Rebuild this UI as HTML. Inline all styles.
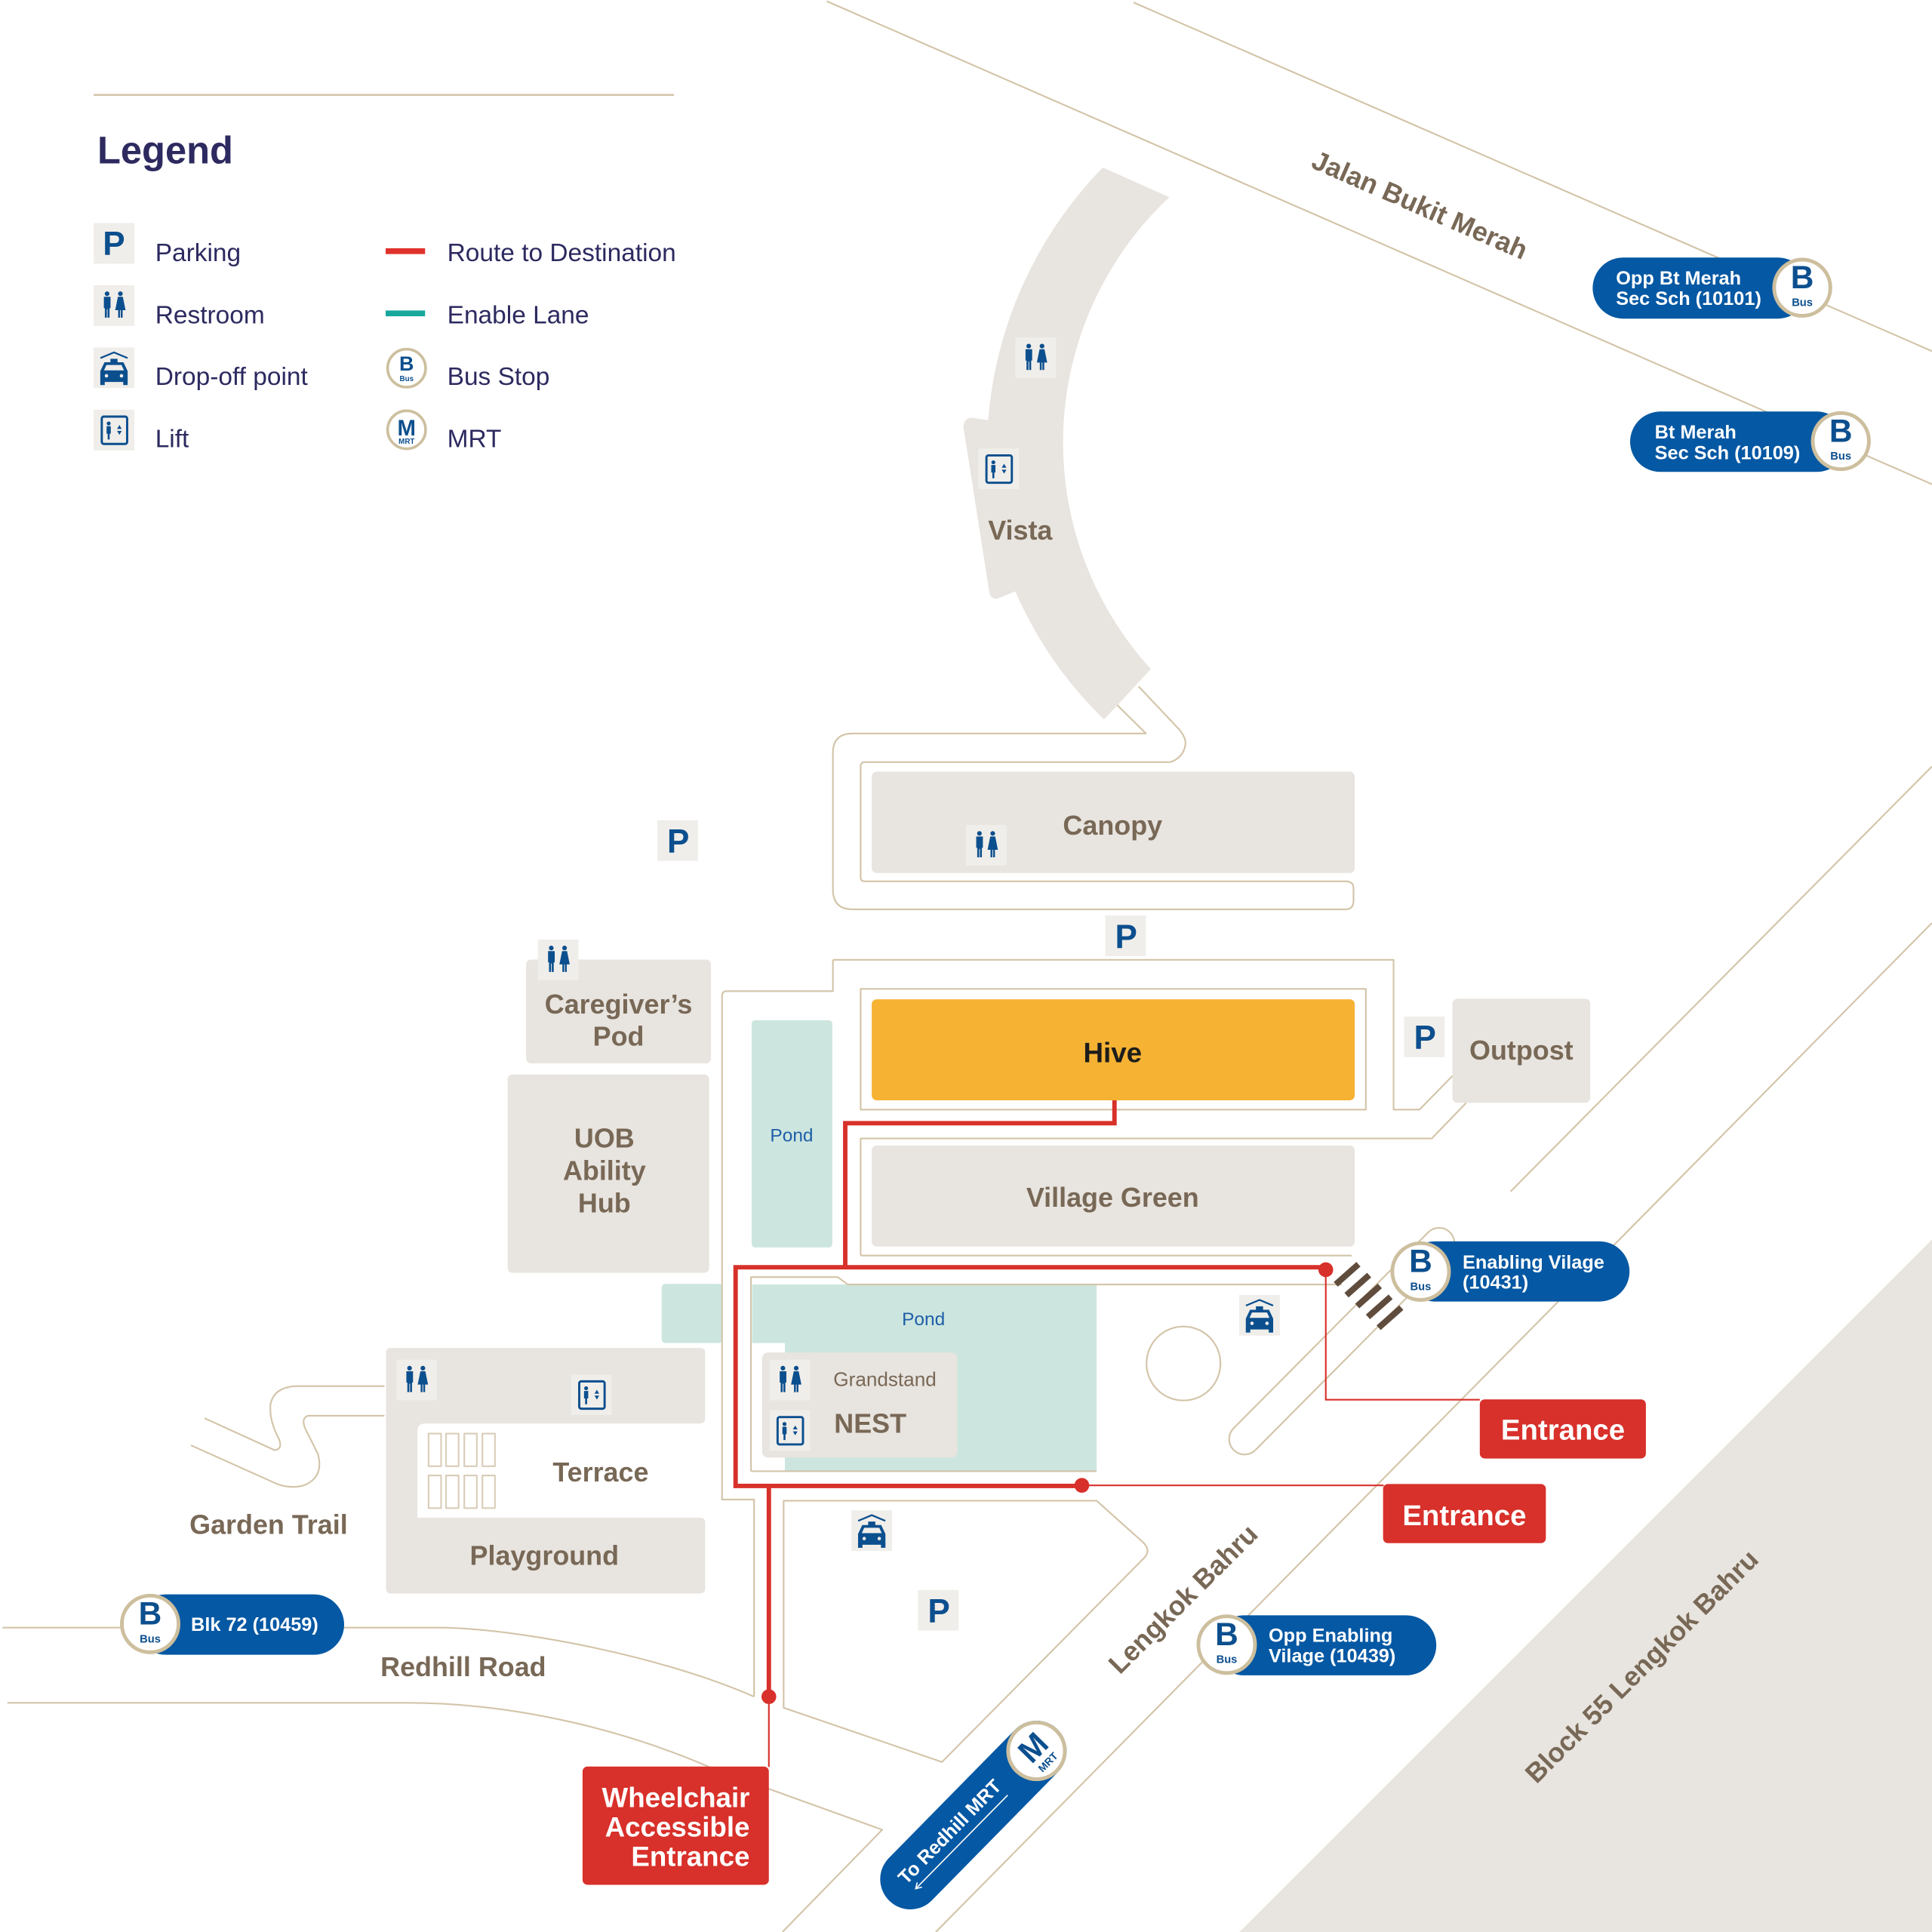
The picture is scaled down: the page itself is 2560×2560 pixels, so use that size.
<!DOCTYPE html>
<html><head><meta charset="utf-8"><style>
html,body{margin:0;padding:0;background:#fff;}
svg{display:block;}
text{font-family:"Liberation Sans",Arial,sans-serif;}
</style></head><body>
<svg width="2560" height="2560" viewBox="0 0 1568 1568" xmlns="http://www.w3.org/2000/svg">
<defs>
<g id="ic-rest">
 <rect width="33" height="33" fill="#f0eeea"/>
 <g fill="#0c4f8e">
  <circle cx="10.9" cy="6.9" r="1.9"/>
  <path d="M8.3,9.4 H13.7 V18.6 H12.9 V26.3 H11.3 V19.5 H10.7 V26.3 H9.1 V18.6 H8.3 Z"/>
  <circle cx="21.7" cy="6.9" r="1.9"/>
  <path d="M19.7,9.4 H23.7 L25.9,20.2 H23.5 V26.3 H22 V20.2 H21.4 V26.3 H19.9 V20.2 H17.5 Z"/>
 </g>
</g>
<g id="ic-drop">
 <rect width="33" height="33" fill="#f0eeea"/>
 <polyline points="5.5,8.6 16.5,4 27.5,8.6" fill="none" stroke="#0c4f8e" stroke-width="1.4"/>
 <rect x="13.6" y="9.2" width="5.8" height="3" fill="#0c4f8e"/>
 <path d="M8.8,12 H24.2 L27.6,19.2 V28 H5.4 V19.2 Z" fill="#0c4f8e"/>
 <path d="M10.4,14.2 H22.6 L24.6,18.6 H8.4 Z" fill="#f0eeea"/>
 <circle cx="10.4" cy="23" r="1.4" fill="#f0eeea"/>
 <circle cx="22.6" cy="23" r="1.4" fill="#f0eeea"/>
 <rect x="5.4" y="27" width="3.6" height="3.5" fill="#0c4f8e"/>
 <rect x="24" y="27" width="3.6" height="3.5" fill="#0c4f8e"/>
</g>
<g id="ic-lift">
 <rect width="33" height="33" fill="#f0eeea"/>
 <rect x="6.6" y="5.6" width="20.6" height="22.2" rx="1.6" fill="none" stroke="#0c4f8e" stroke-width="1.8"/>
 <circle cx="12.2" cy="11.2" r="1.6" fill="#0c4f8e"/>
 <path d="M10.5,13.4 H13.9 V19.5 H13 V24.2 H11.4 V19.5 H10.5 Z" fill="#0c4f8e"/>
 <path d="M20.9,12.4 L22.8,15.6 H19 Z M19,17.2 H22.8 L20.9,20.4 Z" fill="#0c4f8e"/>
</g>
<rect id="ic-box" width="33" height="33" fill="#f0eeea"/>
</defs>

<rect width="1568" height="1568" fill="#fff"/>

<!-- Block 55 area -->
<polygon points="1568,1006 1568,1568 1006,1568" fill="#e8e4df"/>

<!-- Ponds -->
<rect x="610" y="828" width="65.5" height="184.5" rx="3" fill="#cce6df"/>
<rect x="537" y="1042" width="49.5" height="48" rx="3" fill="#cce6df"/>
<path d="M610.5,1042.5 H890 V1194 H637 V1090 H610.5 Z" fill="#cce6df"/>

<!-- Road / path lines -->
<g fill="none" stroke="#d3c4a8" stroke-width="1.3" stroke-linejoin="round">
 <line x1="76" y1="77" x2="547" y2="77" stroke-width="1.5"/>
 <line x1="920" y1="2" x2="1568" y2="285"/>
 <line x1="671" y1="1" x2="1568" y2="393"/>
 <path d="M924,557 L957,592 Q963,599 962,605 Q960,615 950,618.5 L702,618.5 Q698.5,618.5 698.5,622 L698.5,712 Q698.5,715.3 702,715.3 L1092,715.3 Q1098.5,715.3 1098.5,721 L1098.5,731 Q1098.5,738 1092,738 L692,738 Q676,738 676,722 L676,611 Q676,595.3 692,595.3 L930,595.3 L906.5,572"/>
 <path d="M676,779 L1131,779 L1131,900.6 L1152,900.6 L1179,873"/>
 <path d="M676,779 L676,804.4 L590,804.4 Q586,804.4 586,808 L586,1217 L612,1217 L612,1377"/>
 <rect x="698.5" y="802.6" width="410" height="98"/>
 <path d="M698.5,1019 L698.5,924 L1162,924 L1190,895"/>
 <path d="M698.5,1019 L1097,1019"/>
 <path d="M609.5,1194 L609.5,1036.5 L680,1036.5 L688,1042.5 L1089,1042.5"/>
 <path d="M609.5,1194 L890,1194"/>
 <path d="M636,1218 L890,1218 L928,1252 Q934,1258 929,1264 L764.5,1430 L636,1386 Z"/>
 <path d="M2,1321 L355,1321 C420,1321 540,1345 612,1377"/>
 <path d="M6,1382 L330,1382 C420,1382 510,1405 580,1436 L716,1485 L635,1568"/>
 <path d="M312,1125 L240,1125 Q222,1126 219.5,1140 Q218.5,1153 226,1167 Q230,1176 223,1177 L166,1151"/>
 <path d="M312,1149 L250,1149 Q244,1151 248,1160 L258,1180 Q263,1198 248,1205 Q237,1209 224,1204 L155,1173"/>
 <line x1="1226" y1="967" x2="1568" y2="622"/>
 <line x1="1568" y1="749" x2="759.5" y2="1568"/>
 <rect x="964.5" y="1076" width="249" height="25" rx="12.5" transform="rotate(-45.2 1089 1088.5)"/>
 <circle cx="960.5" cy="1106.6" r="30"/>
 <g stroke="#d9cdb9">
  <rect x="347.8" y="1163.5" width="10.2" height="26.5"/>
  <rect x="362" y="1163.5" width="10.2" height="26.5"/>
  <rect x="376.8" y="1163.5" width="10.2" height="26.5"/>
  <rect x="391.5" y="1163.5" width="10.2" height="26.5"/>
  <rect x="347.8" y="1197.5" width="10.2" height="26.5"/>
  <rect x="362" y="1197.5" width="10.2" height="26.5"/>
  <rect x="376.8" y="1197.5" width="10.2" height="26.5"/>
  <rect x="391.5" y="1197.5" width="10.2" height="26.5"/>
 </g>
</g>

<!-- Vista -->
<path d="M895,136 L949,160 A273 273 0 0 0 934,543 L896,584 A331 331 0 0 1 824,480 L809,486 Q804,486 803,481 L782,347 Q782,340 788,339 L802,341 A331 331 0 0 1 895,136 Z" fill="#e8e4df"/>

<!-- Buildings -->
<g fill="#e8e4df">
 <rect x="707.5" y="626.3" width="392" height="82.2" rx="4"/>
 <rect x="707.5" y="929.7" width="392" height="82" rx="4"/>
 <rect x="427" y="778.8" width="150" height="84.2" rx="4"/>
 <rect x="412" y="872" width="163.5" height="161" rx="4"/>
 <rect x="1178.8" y="810.6" width="111.8" height="84.4" rx="4"/>
 <rect x="618.5" y="1097.7" width="158.5" height="85.3" rx="5"/>
 <path d="M317,1094 H568 Q572.3,1094 572.3,1098 V1151 Q572.3,1155.3 568,1155.3 H345 Q338.7,1155.3 338.7,1162 V1231.7 H568 Q572.3,1231.7 572.3,1236 V1289 Q572.3,1293.2 568,1293.2 H317 Q313.3,1293.2 313.3,1289 V1098 Q313.3,1094 317,1094 Z"/>
</g>
<rect x="707.5" y="811" width="392" height="82" rx="4" fill="#f6b233"/>

<!-- Crosswalk -->
<g stroke="#5f4c3d" stroke-width="5">
 <line x1="1084.1" y1="1042.35" x2="1102.5" y2="1026.05"/>
 <line x1="1092.8" y1="1051.15" x2="1111.2" y2="1034.85"/>
 <line x1="1101.5" y1="1059.95" x2="1119.9" y2="1043.65"/>
 <line x1="1110.2" y1="1068.75" x2="1128.6" y2="1052.45"/>
 <line x1="1118.9" y1="1077.55" x2="1137.3" y2="1061.25"/>
</g>

<!-- Icons -->
<use href="#ic-rest" x="824" y="274"/>
<use href="#ic-lift" x="794" y="364"/>
<use href="#ic-rest" x="784" y="669.5"/>
<use href="#ic-rest" x="436.5" y="762.5"/>
<use href="#ic-rest" x="321.5" y="1103.5"/>
<use href="#ic-lift" x="463.5" y="1115.5"/>
<use href="#ic-rest" x="624.5" y="1103.5"/>
<use href="#ic-lift" x="624.5" y="1144.5"/>
<use href="#ic-drop" x="691" y="1225.7"/>
<use href="#ic-drop" x="1005.7" y="1051"/>
<use href="#ic-box" x="533.5" y="665.7"/>
<use href="#ic-box" x="897" y="743"/>
<use href="#ic-box" x="1139.5" y="825"/>
<use href="#ic-box" x="745" y="1290.4"/>
<g font-size="27" font-weight="bold" fill="#0c4f8e" text-anchor="middle">
 <text x="550.5" y="692">P</text>
 <text x="914" y="769.5">P</text>
 <text x="1156.5" y="851.5">P</text>
 <text x="762" y="1317">P</text>
</g>

<!-- Red route -->
<g fill="none" stroke="#d8302a" stroke-width="3.6" stroke-linejoin="miter">
 <path d="M904.5,893 V911.6 H686 V1028.5"/>
 <path d="M1076,1028.5 H597 V1206 H878"/>
 <path d="M624,1206 V1377"/>
</g>
<g fill="none" stroke="#d8302a" stroke-width="1.3">
 <path d="M624,1377 V1434"/>
 <path d="M1076,1030 V1136 H1201"/>
 <path d="M878,1205.5 H1123"/>
</g>
<g fill="#d8302a">
 <circle cx="624" cy="1377" r="6"/>
 <circle cx="1076" cy="1030.5" r="6"/>
 <circle cx="878" cy="1205.5" r="6"/>
 <rect x="1201" y="1135.7" width="134.8" height="48" rx="4"/>
 <rect x="1122.5" y="1204.4" width="132.1" height="48" rx="4"/>
 <rect x="472.8" y="1433.7" width="151.2" height="96" rx="4"/>
</g>
<g fill="#fff" font-weight="bold" font-size="23.5" text-anchor="middle">
 <text x="1268.5" y="1168.5">Entrance</text>
 <text x="1188.5" y="1238">Entrance</text>
</g>
<g fill="#fff" font-weight="bold" font-size="22.5" text-anchor="end">
 <text x="608.5" y="1466.5">Wheelchair</text>
 <text x="608.5" y="1490.5">Accessible</text>
 <text x="608.5" y="1514.5">Entrance</text>
</g>

<!-- Bus pills -->
<g fill="#0558a3">
 <rect x="1292.6" y="209" width="175" height="49.6" rx="24.8"/>
 <rect x="1323" y="334" width="176" height="49" rx="24.5"/>
 <rect x="1140" y="1007.5" width="182.5" height="48.8" rx="24.4"/>
 <rect x="985" y="1311" width="180.7" height="48.7" rx="24.35"/>
 <rect x="110" y="1294" width="169.3" height="49" rx="24.5"/>
</g>
<g fill="#fff" font-weight="bold" font-size="15.5">
 <text x="1311.5" y="231">Opp Bt Merah</text>
 <text x="1311.5" y="247.5">Sec Sch (10101)</text>
 <text x="1343" y="356">Bt Merah</text>
 <text x="1343" y="372.7">Sec Sch (10109)</text>
 <text x="1187" y="1029.5">Enabling Vilage</text>
 <text x="1187" y="1046">(10431)</text>
 <text x="1029.6" y="1332.5">Opp Enabling</text>
 <text x="1029.6" y="1349">Vilage (10439)</text>
 <text x="155" y="1323.5">Blk 72 (10459)</text>
</g>
<g fill="#fff" stroke="#cdbf9e" stroke-width="3">
 <circle cx="1462.7" cy="233.5" r="22.8"/>
 <circle cx="1494" cy="358" r="22.8"/>
 <circle cx="1153" cy="1032" r="23"/>
 <circle cx="995.6" cy="1334.8" r="23"/>
 <circle cx="121.9" cy="1318" r="23"/>
</g>
<g fill="#0c4f8e" font-weight="bold" text-anchor="middle">
 <text x="1462.7" y="234" font-size="26">B</text><text x="1462.7" y="248.5" font-size="9">Bus</text>
 <text x="1494" y="358.5" font-size="26">B</text><text x="1494" y="373" font-size="9">Bus</text>
 <text x="1153" y="1032.5" font-size="26">B</text><text x="1153" y="1047" font-size="9">Bus</text>
 <text x="995.6" y="1335.3" font-size="26">B</text><text x="995.6" y="1349.8" font-size="9">Bus</text>
 <text x="121.9" y="1318.5" font-size="26">B</text><text x="121.9" y="1333" font-size="9">Bus</text>
</g>

<!-- MRT pill -->
<g transform="translate(841.2,1421) rotate(-45.5)">
 <rect x="-170.5" y="-24.5" width="195" height="49" rx="24.5" fill="#0558a3"/>
 <text x="-152" y="1" font-size="15.5" font-weight="bold" fill="#fff">To Redhill MRT</text>
 <line x1="-42" y1="8.5" x2="-148" y2="8.5" stroke="#fff" stroke-width="1"/>
 <path d="M-144,5.8 L-148.5,8.5 L-144,11.2" fill="none" stroke="#fff" stroke-width="1"/>
 <circle r="23" fill="#fff" stroke="#cdbf9e" stroke-width="3"/>
 <text x="0" y="5" font-size="26" font-weight="bold" fill="#0c4f8e" text-anchor="middle">M</text>
 <text x="0" y="16" font-size="8.5" font-weight="bold" fill="#0c4f8e" text-anchor="middle">MRT</text>
</g>

<!-- Map labels -->
<g fill="#786856" font-weight="bold" font-size="22" text-anchor="middle">
 <text x="828" y="438">Vista</text>
 <text x="903" y="677.5">Canopy</text>
 <text x="903" y="979.5">Village Green</text>
 <text x="502" y="822.5">Caregiver’s</text>
 <text x="502" y="848.5">Pod</text>
 <text x="490.5" y="931.3">UOB</text>
 <text x="490.5" y="957.8">Ability</text>
 <text x="490.5" y="984.1">Hub</text>
 <text x="1234.7" y="860">Outpost</text>
 <text x="487.5" y="1202.5">Terrace</text>
 <text x="441.8" y="1270">Playground</text>
 <text x="218" y="1245">Garden Trail</text>
 <text x="376" y="1360.5">Redhill Road</text>
 <text x="1149.3" y="173.3" transform="rotate(23.6 1149.3 173.3)">Jalan Bukit Merah</text>
 <text x="965.5" y="1303" transform="rotate(-45 965.5 1303)">Lengkok Bahru</text>
 <text x="1337.7" y="1357.7" transform="rotate(-45 1337.7 1357.7)">Block 55 Lengkok Bahru</text>
</g>
<text x="903" y="862" fill="#1d1d1b" font-weight="bold" font-size="22.5" text-anchor="middle">Hive</text>
<text x="677" y="1162.8" fill="#786856" font-weight="bold" font-size="22">NEST</text>
<text x="676.4" y="1125" fill="#786856" font-size="16">Grandstand</text>
<g fill="#1f5ea8" font-size="15" text-anchor="middle">
 <text x="642.5" y="926.5">Pond</text>
 <text x="749.5" y="1075.5">Pond</text>
</g>

<!-- Legend -->
<text x="79" y="132.5" font-size="31" font-weight="bold" fill="#2c2a5f">Legend</text>
<use href="#ic-box" x="76" y="181"/>
<text x="92.5" y="207" font-size="27" font-weight="bold" fill="#0c4f8e" text-anchor="middle">P</text>
<use href="#ic-rest" x="76" y="231.5"/>
<use href="#ic-drop" x="76" y="282"/>
<use href="#ic-lift" x="76" y="332.5"/>
<g font-size="20.5" fill="#2c2a5f">
 <text x="126" y="212">Parking</text>
 <text x="126" y="262.5">Restroom</text>
 <text x="126" y="312.5">Drop-off point</text>
 <text x="126" y="363">Lift</text>
 <text x="363" y="212">Route to Destination</text>
 <text x="363" y="262.5">Enable Lane</text>
 <text x="363" y="312.5">Bus Stop</text>
 <text x="363" y="363">MRT</text>
</g>
<rect x="313" y="201.5" width="32" height="4.7" fill="#e0322c"/>
<rect x="313" y="252" width="32" height="4.7" fill="#17a79d"/>
<g fill="#fff" stroke="#cdbf9e" stroke-width="2.2">
 <circle cx="330" cy="298.8" r="15.4"/>
 <circle cx="330" cy="348.8" r="15.4"/>
</g>
<g fill="#0c4f8e" font-weight="bold" text-anchor="middle">
 <text x="330" y="300.8" font-size="16.5">B</text>
 <text x="330" y="309.4" font-size="6">Bus</text>
 <text x="330" y="353.5" font-size="18">M</text>
 <text x="330" y="360.3" font-size="6">MRT</text>
</g>
</svg>
</body></html>
